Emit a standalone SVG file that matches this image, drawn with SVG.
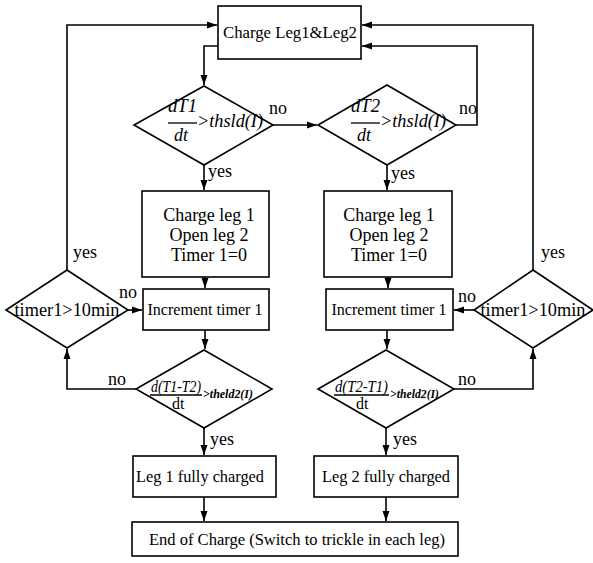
<svg xmlns="http://www.w3.org/2000/svg" width="593" height="563" viewBox="0 0 593 563" font-family="'Liberation Serif', 'Times New Roman', Times, serif">
<defs>
<marker id="arr" markerUnits="userSpaceOnUse" markerWidth="11" markerHeight="8" refX="10" refY="4" orient="auto">
<path d="M0,0.5 L10,4 L0,7.5 z" fill="#000"/>
</marker>
<style>
.box{fill:#fff;stroke:#000;stroke-width:1.6}
.ln{fill:none;stroke:#000;stroke-width:1.6}
text{font-family:'Liberation Serif','Times New Roman',Times,serif;fill:#000}
.t16{font-size:16px}
.t17{font-size:17px}
.t18{font-size:18px}
.lab{font-size:18px}
.it{font-style:italic}
.c{text-anchor:middle}
</style>
</defs>
<rect width="593" height="563" fill="#fff"/>

<g id="connectors">
<polyline class="ln" points="67,270 67,25 217,25" marker-end="url(#arr)"/>
<polyline class="ln" points="533,270 533,25 362,25" marker-end="url(#arr)"/>
<polyline class="ln" points="456,125 477,125 477,46 362,46" marker-end="url(#arr)"/>
<polyline class="ln" points="218,46 204,46 204,85" marker-end="url(#arr)"/>
<line class="ln" x1="273" y1="125" x2="317" y2="125" marker-end="url(#arr)"/>
<line class="ln" x1="204" y1="165" x2="204" y2="190" marker-end="url(#arr)"/>
<line class="ln" x1="387" y1="165" x2="387" y2="190" marker-end="url(#arr)"/>
<line class="ln" x1="205" y1="277" x2="205" y2="288" marker-end="url(#arr)"/>
<line class="ln" x1="388" y1="277" x2="388" y2="288" marker-end="url(#arr)"/>
<line class="ln" x1="128" y1="310" x2="142" y2="310" marker-end="url(#arr)"/>
<line class="ln" x1="474" y1="310" x2="454" y2="310" marker-end="url(#arr)"/>
<line class="ln" x1="205" y1="330" x2="205" y2="349" marker-end="url(#arr)"/>
<line class="ln" x1="387" y1="330" x2="387" y2="349" marker-end="url(#arr)"/>
<polyline class="ln" points="136,389 67,389 67,349" marker-end="url(#arr)"/>
<polyline class="ln" points="454,389 533,389 533,349" marker-end="url(#arr)"/>
<line class="ln" x1="204" y1="428" x2="204" y2="455" marker-end="url(#arr)"/>
<line class="ln" x1="386" y1="428" x2="386" y2="455" marker-end="url(#arr)"/>
<line class="ln" x1="204" y1="497" x2="204" y2="521" marker-end="url(#arr)"/>
<line class="ln" x1="386" y1="497" x2="386" y2="521" marker-end="url(#arr)"/>
<text class="lab" x="269" y="114">no</text>
<text class="lab" x="459" y="114">no</text>
<text class="lab" x="208" y="177">yes</text>
<text class="lab" x="391" y="179">yes</text>
<text class="lab" x="73" y="258">yes</text>
<text class="lab" x="541" y="258">yes</text>
<text class="lab" x="119" y="298">no</text>
<text class="lab" x="458" y="302">no</text>
<text class="lab" x="108" y="385">no</text>
<text class="lab" x="458" y="385">no</text>
<text class="lab" x="210" y="445">yes</text>
<text class="lab" x="393" y="445">yes</text>
</g>

<g id="start">
<rect class="box" x="218" y="6" width="143" height="53"/>
<text class="t17 c" x="290" y="38" textLength="134" lengthAdjust="spacingAndGlyphs">Charge Leg1&amp;Leg2</text>
</g>

<g id="d1">
<polygon class="box" points="204,86 273,125 204,165 134,125"/>
<text class="t18 it" x="168" y="112" textLength="29" lengthAdjust="spacingAndGlyphs">dT1</text>
<line x1="168" y1="123" x2="197" y2="123" stroke="#000" stroke-width="1.3"/>
<text class="t18 it" x="174" y="141">dt</text>
<text class="t18 it" x="197" y="127" textLength="66" lengthAdjust="spacingAndGlyphs">&gt;thsld(I)</text>
</g>

<g id="d2">
<polygon class="box" points="387,85 456,125 387,165 318,125"/>
<text class="t18 it" x="351" y="112" textLength="29" lengthAdjust="spacingAndGlyphs">dT2</text>
<line x1="351" y1="123" x2="380" y2="123" stroke="#000" stroke-width="1.3"/>
<text class="t18 it" x="357" y="141">dt</text>
<text class="t18 it" x="380" y="127" textLength="66" lengthAdjust="spacingAndGlyphs">&gt;thsld(I)</text>
</g>

<g id="c1">
<rect class="box" x="142" y="191" width="127" height="86"/>
<text class="t18 c" x="209" y="221">Charge leg 1</text>
<text class="t18 c" x="209" y="241">Open leg 2</text>
<text class="t18 c" x="209" y="261">Timer 1=0</text>
</g>

<g id="c2">
<rect class="box" x="324" y="191" width="128" height="86"/>
<text class="t18 c" x="389" y="221">Charge leg 1</text>
<text class="t18 c" x="389" y="241">Open leg 2</text>
<text class="t18 c" x="389" y="261">Timer 1=0</text>
</g>

<g id="tm1">
<polygon class="box" points="67,270 128,310 67,348 6,310"/>
<text class="t18 c" x="67" y="316" textLength="105" lengthAdjust="spacingAndGlyphs">timer1&gt;10min</text>
</g>

<g id="tm2">
<polygon class="box" points="533,270 593,310 533,348 474,310"/>
<text class="t18 c" x="533" y="316" textLength="105" lengthAdjust="spacingAndGlyphs">timer1&gt;10min</text>
</g>

<g id="inc1">
<rect class="box" x="143" y="289" width="126" height="41"/>
<text class="t16 c" x="205" y="315" textLength="115" lengthAdjust="spacingAndGlyphs">Increment timer 1</text>
</g>

<g id="inc2">
<rect class="box" x="326" y="289" width="127" height="41"/>
<text class="t16 c" x="389" y="315" textLength="115" lengthAdjust="spacingAndGlyphs">Increment timer 1</text>
</g>

<g id="d3">
<polygon class="box" points="204,350 272,389 204,428 136,389"/>
<text class="t16 it" x="151" y="392" textLength="50" lengthAdjust="spacingAndGlyphs">d(T1-T2)</text>
<line x1="150" y1="395" x2="202" y2="395" stroke="#000" stroke-width="1.3"/>
<text class="t16" x="172" y="409">dt</text>
<text class="it" font-size="13" font-weight="bold" x="203" y="398" textLength="50" lengthAdjust="spacingAndGlyphs">&gt;theld2(I)</text>
</g>

<g id="d4">
<polygon class="box" points="386,350 454,389 386,428 318,389"/>
<text class="t16 it" x="335" y="392" textLength="53" lengthAdjust="spacingAndGlyphs">d(T2-T1)</text>
<line x1="334" y1="395" x2="389" y2="395" stroke="#000" stroke-width="1.3"/>
<text class="t16" x="356" y="409">dt</text>
<text class="it" font-size="13" font-weight="bold" x="390" y="398" textLength="49" lengthAdjust="spacingAndGlyphs">&gt;theld2(I)</text>
</g>

<g id="leg1">
<rect class="box" x="133" y="456" width="143" height="41"/>
<text class="t16 c" x="200" y="482" textLength="128" lengthAdjust="spacingAndGlyphs">Leg 1 fully charged</text>
</g>

<g id="leg2">
<rect class="box" x="314" y="456" width="144" height="41"/>
<text class="t16 c" x="386" y="482" textLength="128" lengthAdjust="spacingAndGlyphs">Leg 2 fully charged</text>
</g>

<g id="end">
<rect class="box" x="132" y="522" width="326" height="34"/>
<text class="t16 c" x="297" y="545" textLength="296" lengthAdjust="spacingAndGlyphs">End of Charge (Switch to trickle in each leg)</text>
</g>
</svg>
